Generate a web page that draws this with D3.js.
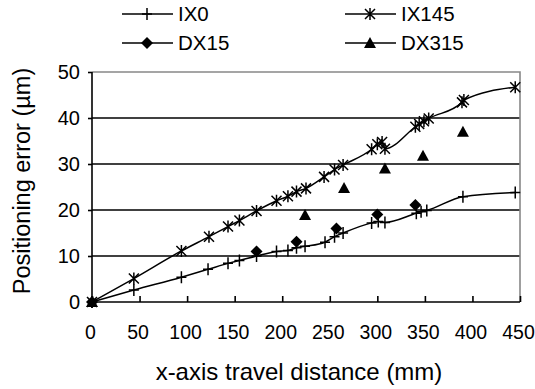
<!DOCTYPE html>
<html>
<head>
<meta charset="utf-8">
<script src="https://cdn.jsdelivr.net/npm/d3@7"></script>
<style>
  body { margin: 0; background: #fff; }
  svg text { font-family: "Liberation Sans", Arial, sans-serif; fill: #000; }
</style>
</head>
<body>
<svg id="chart" width="535" height="389"></svg>
<script>
// values
const ix0_x = [0, 44, 94, 122, 143, 155, 173, 194, 206, 215, 224, 245, 255, 264, 294, 301, 308, 341, 346, 352, 390, 445];
const ix0_y = [0, 2.6, 5.4, 7.1, 8.4, 9.0, 10.0, 11.0, 11.2, 11.8, 12.1, 13.0, 14.2, 15.0, 17.2, 17.5, 17.3, 19.3, 19.6, 19.9, 22.9, 23.8];

const ix145_x = [0, 44, 94, 123, 143, 155, 173, 194, 206, 215, 225, 244, 255, 264, 294, 300, 305, 308, 340, 344, 349, 354, 389, 391, 445];
const ix145_y = [0, 5.1, 11.1, 14.2, 16.4, 17.7, 19.8, 22.0, 23.0, 24.0, 24.7, 27.2, 28.8, 29.8, 33.2, 34.3, 34.8, 33.3, 38.1, 38.7, 39.3, 39.9, 43.4, 43.9, 46.7];

const dx15_x = [0, 173, 215, 257, 300, 340];
const dx15_y = [0, 11.0, 13.1, 16.0, 19.0, 21.1];

const dx315_x = [0, 224, 265, 308, 348, 390];
const dx315_y = [0, 18.9, 24.8, 29.0, 31.8, 37.0];

const xTicks = [0, 50, 100, 150, 200, 250, 300, 350, 400, 450];
const yTicks = [0, 10, 20, 30, 40, 50];
const seriesNames = ["IX0", "IX145", "DX15", "DX315"];

const svg = d3.select("svg#chart");
const pLeft = 92, pRight = 520, pTop = 72, pBottom = 302;

const x = d3.scaleLinear().domain([0, 450]).range([pLeft, pRight]);
const y = d3.scaleLinear().domain([0, 50]).range([pBottom, pTop]);

// gridlines
svg.append("g").selectAll("line.grid")
  .data(yTicks.filter(d => d > 0 && d < 50))
  .enter().append("line")
  .attr("x1", pLeft).attr("x2", pRight)
  .attr("y1", d => y(d)).attr("y2", d => y(d))
  .attr("stroke", "#000").attr("stroke-width", 1.6);

// plot border top / right (grey)
svg.append("path")
  .attr("d", `M${pLeft},${y(50)}H${pRight}V${pBottom}`)
  .attr("fill", "none").attr("stroke", "#888").attr("stroke-width", 1.6);

// x axis, ticks pointing inward
const xAxis = svg.append("g").attr("transform", `translate(0,${pBottom})`)
  .call(d3.axisBottom(x).tickValues(xTicks).tickSize(-6).tickPadding(23).tickFormat(d3.format("d")));
xAxis.select(".domain").remove();
xAxis.selectAll("line").attr("stroke", "#000").attr("stroke-width", 1.6);
xAxis.selectAll("text").attr("font-size", 19.5).attr("dx", -2)
  .attr("font-family", "Liberation Sans, Arial, sans-serif");
svg.append("line").attr("x1", pLeft).attr("x2", pRight).attr("y1", pBottom).attr("y2", pBottom)
  .attr("stroke", "#000").attr("stroke-width", 1.6);

// y axis
const yAxis = svg.append("g").attr("transform", `translate(${pLeft},0)`)
  .call(d3.axisLeft(y).tickValues(yTicks).tickSize(4).tickPadding(8));
yAxis.select(".domain").remove();
yAxis.selectAll("line").attr("stroke", "#000").attr("stroke-width", 1.6);
yAxis.selectAll("text").attr("font-size", 20).attr("font-family", "Liberation Sans, Arial, sans-serif");
svg.append("line").attr("x1", pLeft).attr("x2", pLeft).attr("y1", pTop).attr("y2", pBottom)
  .attr("stroke", "#000").attr("stroke-width", 1.6);

// axis titles
svg.append("text").attr("x", 299).attr("y", 380)
  .attr("text-anchor", "middle").attr("font-size", 24)
  .text("x-axis travel distance (mm)");
svg.append("text")
  .attr("transform", `translate(30,181) rotate(-90)`)
  .attr("text-anchor", "middle").attr("font-size", 23.5)
  .text("Positioning error (µm)");

// markers
function drawMarker(g, kind, cx, cy) {
  if (kind === "plus") {
    g.append("path").attr("d", `M${cx - 5},${cy}H${cx + 5}M${cx},${cy - 6}V${cy + 6}`)
      .attr("stroke", "#000").attr("stroke-width", 1.5).attr("fill", "none");
  } else if (kind === "star") {
    const s = 5;
    g.append("path").attr("d", `M${cx - s},${cy - s}L${cx + s},${cy + s}M${cx - s},${cy + s}L${cx + s},${cy - s}M${cx},${cy - 6}V${cy + 6}`)
      .attr("stroke", "#000").attr("stroke-width", 1.5).attr("fill", "none");
  } else if (kind === "diamond") {
    g.append("path").attr("d", `M${cx},${cy - 6}L${cx + 6},${cy}L${cx},${cy + 6}L${cx - 6},${cy}Z`)
      .attr("fill", "#000");
  } else if (kind === "tri") {
    g.append("path").attr("d", `M${cx},${cy - 6}L${cx + 6},${cy + 5}L${cx - 6},${cy + 5}Z`)
      .attr("fill", "#000");
  }
}

const line = d3.line().x(d => x(d[0])).y(d => y(d[1])).curve(d3.curveMonotoneX);
const pairs = (xs, ys) => xs.map((v, i) => [v, ys[i]]);

const series = [
  { name: seriesNames[0], data: pairs(ix0_x, ix0_y), kind: "plus", line: true },
  { name: seriesNames[1], data: pairs(ix145_x, ix145_y), kind: "star", line: true },
  { name: seriesNames[2], data: pairs(dx15_x, dx15_y), kind: "diamond", line: false },
  { name: seriesNames[3], data: pairs(dx315_x, dx315_y), kind: "tri", line: false }
];

const gData = svg.append("g");
series.forEach(s => {
  if (s.line) {
    gData.append("path").attr("d", line(s.data))
      .attr("fill", "none").attr("stroke", "#000").attr("stroke-width", 1.5);
  }
  s.data.forEach(d => drawMarker(gData, s.kind, x(d[0]), y(d[1])));
});

// legend
const legendPos = [[122, 14], [345, 14], [122, 43], [345, 43]];
series.forEach((s, i) => {
  const [lx, ly] = legendPos[i];
  const g = svg.append("g");
  g.append("line").attr("x1", lx).attr("x2", lx + 51).attr("y1", ly).attr("y2", ly)
    .attr("stroke", "#000").attr("stroke-width", 1.5);
  drawMarker(g, s.kind, lx + 25, ly);
  g.append("text").attr("x", lx + 56).attr("y", ly + 7).attr("font-size", 20.5).text(s.name);
});
</script>
</body>
</html>
